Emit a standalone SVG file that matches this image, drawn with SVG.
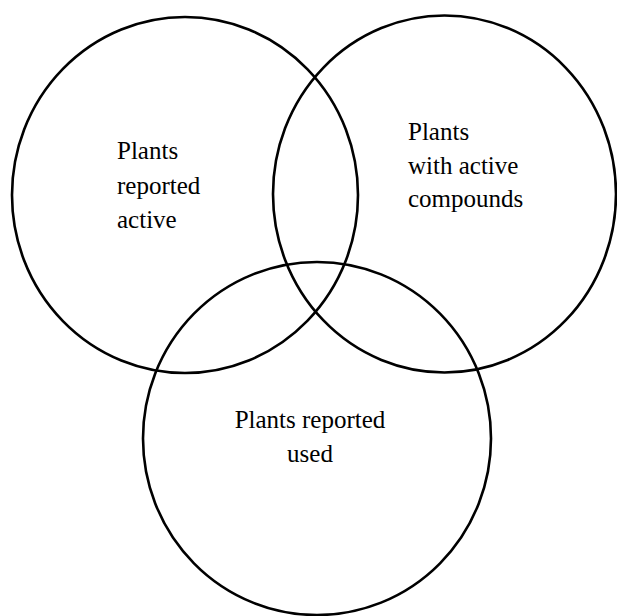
<svg xmlns="http://www.w3.org/2000/svg" width="617" height="616" viewBox="0 0 617 616">
<style>
.c{fill:none;stroke:#000;stroke-width:2.6}
.t{font-size:25px;fill:#000}
</style>
<rect width="617" height="616" fill="#fff"/>
<g id="active" font-family="'Liberation Serif', 'Times New Roman', 'DejaVu Serif', serif">
<ellipse class="c" cx="185" cy="195" rx="173" ry="178"/>
<text class="t" x="117" y="159">Plants</text>
<text class="t" x="117" y="193.5">reported</text>
<text class="t" x="117" y="227.5">active</text>
</g>
<g id="compounds" font-family="'Liberation Serif', 'Times New Roman', 'DejaVu Serif', serif">
<ellipse class="c" cx="444.5" cy="194" rx="171.5" ry="178.5"/>
<text class="t" x="408" y="139.5">Plants</text>
<text class="t" x="408" y="174">with active</text>
<text class="t" x="408" y="207">compounds</text>
</g>
<g id="used" font-family="'Liberation Serif', 'Times New Roman', 'DejaVu Serif', serif">
<ellipse class="c" cx="317" cy="438.5" rx="174" ry="176.5"/>
<text class="t" x="310" y="428" text-anchor="middle">Plants reported</text>
<text class="t" x="310" y="461.5" text-anchor="middle">used</text>
</g>
<g id="connectors"/>
</svg>
